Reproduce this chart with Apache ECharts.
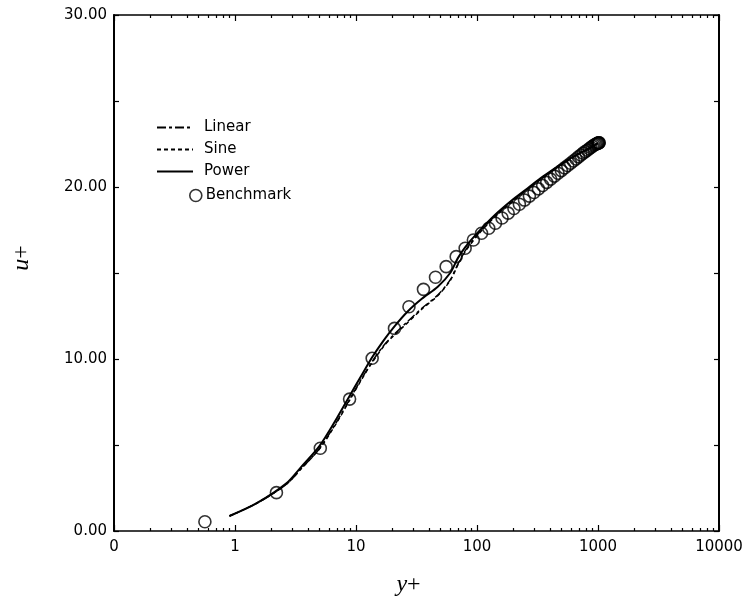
<!DOCTYPE html>
<html><head><meta charset="utf-8">
<script src="https://cdn.jsdelivr.net/npm/echarts@6/dist/echarts.min.js"></script>
<style>html,body{margin:0;padding:0;background:#fff}#c{width:742px;height:598px}</style>
</head><body><div id="c"></div>
<script>
// ---- data ----
var benchX = [0.564, 2.20, 5.07, 8.85, 13.6, 20.8, 27.4, 36.1, 45.4, 55.6, 67.3, 79.8, 93.3, 109, 125, 142, 161, 181, 202, 224, 247, 271, 296, 322, 349, 377, 406, 436, 467, 498, 530, 562, 594, 626, 658, 690, 722, 754, 785, 815, 845, 873, 900, 925, 948, 968, 985, 999, 1010, 1018, 1023];
var benchU = [0.54, 2.23, 4.81, 7.67, 10.04, 11.78, 13.04, 14.05, 14.75, 15.37, 15.95, 16.44, 16.92, 17.31, 17.60, 17.89, 18.20, 18.48, 18.75, 19.00, 19.24, 19.47, 19.68, 19.89, 20.09, 20.27, 20.46, 20.63, 20.80, 20.95, 21.11, 21.25, 21.38, 21.51, 21.63, 21.75, 21.86, 21.97, 22.06, 22.14, 22.22, 22.30, 22.37, 22.43, 22.47, 22.50, 22.53, 22.55, 22.56, 22.57, 22.57];
var lineX = [0.9, 1.5, 2.66, 3.5, 5, 7, 8.85, 11, 13.6, 17, 20.8, 26.6, 35, 47.4, 60, 69.3, 80, 100, 142, 200, 270, 350, 500, 700, 850, 1000];
var powerU  = [0.87, 1.6, 2.77, 3.7, 4.95, 6.6, 7.85, 9.0, 10.1, 11.1, 11.9, 12.75, 13.5, 14.2, 15.0, 15.85, 16.5, 17.3, 18.4, 19.3, 20.0, 20.6, 21.35, 21.95, 22.25, 22.55];
var linearU = [0.87, 1.6, 2.72, 3.6, 4.8, 6.4, 7.65, 8.8, 9.85, 10.8, 11.45, 12.17, 12.95, 13.72, 14.6, 15.5, 16.3, 17.2, 18.35, 19.25, 19.95, 20.55, 21.3, 21.95, 22.25, 22.55];
var sineU   = [0.87, 1.6, 2.72, 3.6, 4.78, 6.35, 7.6, 8.75, 9.8, 10.75, 11.4, 12.1, 12.9, 13.68, 14.55, 15.45, 16.25, 17.15, 18.3, 19.2, 19.95, 20.55, 21.3, 21.95, 22.25, 22.55];
var xMajorTicks = [0.1, 1, 10, 100, 1000, 10000];
var xTickLabels = ['0', '1', '10', '100', '1000', '10000'];
var yTickLabels = ['0.00', '10.00', '20.00', '30.00'];

function pairs(xs, ys) { return xs.map(function (x, i) { return [x, ys[i]]; }); }
var xMinorTicks = [];
for (var d = 0.1; d < 10000; d *= 10) {
  for (var k = 2; k <= 9; k++) xMinorTicks.push(+(d * k).toPrecision(3));
}

var FONT = 'DejaVu Sans';
var black = '#000';
var nameRich = { i: { fontFamily: 'Liberation Serif', fontStyle: 'italic', fontSize: 24, color: black }, n: { fontFamily: 'Liberation Serif', fontSize: 24, color: black } };
function xAxisDef(pos, labels, ticks, tickLen, showLine) {
  return {
    type: 'log', logBase: 10, min: 0.1, max: 10000, position: pos, gridIndex: 0,
    axisLine: { show: showLine, onZero: false, lineStyle: { color: black, width: 1.6 } },
    axisTick: { show: true, inside: true, length: tickLen, customValues: ticks, lineStyle: { color: black, width: 1.2 } },
    axisLabel: labels ? {
      show: true, customValues: xMajorTicks, margin: 9, color: black, fontFamily: FONT, fontSize: 15,
      formatter: function (v) { var i = xMajorTicks.findIndex(function (t) { return Math.abs(Math.log10(t) - Math.log10(v)) < 1e-6; }); return i >= 0 ? xTickLabels[i] : ''; }
    } : { show: false },
    splitLine: { show: false }, minorTick: { show: false },
    name: labels ? '{i|y}{n|+}' : '', nameLocation: 'middle', nameGap: 42,
    nameTextStyle: { rich: nameRich, padding: [0, 16, 0, 0] }
  };
}
function yAxisDef(pos, labels) {
  return {
    type: 'value', min: 0, max: 30, interval: 5, position: pos, gridIndex: 0,
    axisLine: { show: true, onZero: false, lineStyle: { color: black, width: 2 } },
    axisTick: { show: true, inside: true, length: 5, lineStyle: { color: black, width: 1.2 } },
    axisLabel: labels ? {
      show: true, margin: 7, color: black, fontFamily: FONT, fontSize: 15,
      formatter: function (v) { return v % 10 === 0 ? yTickLabels[v / 10] : ''; }
    } : { show: false },
    splitLine: { show: false },
    name: labels ? '{i|u}{n|+}' : '', nameLocation: 'middle', nameGap: 80, nameRotate: 90,
    nameTextStyle: { rich: nameRich, padding: [0, 0, 0, 30] }
  };
}

var chart = echarts.init(document.getElementById('c'), null, { renderer: 'canvas' });
chart.setOption({
  backgroundColor: '#fff',
  animation: false,
  grid: { left: 114, right: 23, top: 15, bottom: 67, containLabel: false, outerBoundsMode: 'none' },
  xAxis: [
    xAxisDef('bottom', true, xMajorTicks, 6, true),
    xAxisDef('bottom', false, xMinorTicks, 3, false),
    xAxisDef('top', false, xMajorTicks, 6, true),
    xAxisDef('top', false, xMinorTicks, 3, false)
  ],
  yAxis: [yAxisDef('left', true), yAxisDef('right', false)],
  legend: [
    {
      data: ['Linear', 'Sine', 'Power'], orient: 'vertical', left: 151, top: 115,
      itemWidth: 36, itemHeight: 14, itemGap: 7,
      itemStyle: { opacity: 0 },
      textStyle: { color: black, fontFamily: FONT, fontSize: 15, padding: [0, 0, 0, 6] }
    },
    {
      data: ['Benchmark'], orient: 'vertical', left: 184, top: 183,
      itemWidth: 12, itemHeight: 12, icon: 'circle',
      itemStyle: { color: 'transparent', borderColor: black, borderWidth: 1.6 },
      textStyle: { color: black, fontFamily: FONT, fontSize: 15, padding: [0, 0, 0, -1] }
    }
  ],
  series: [
    {
      name: 'Linear', type: 'line', xAxisIndex: 0, yAxisIndex: 0, symbol: 'none', smooth: 0.3,
      data: pairs(lineX, linearU), color: black,
      lineStyle: { color: black, width: 1.5, type: [9, 3, 3, 3] }, z: 3
    },
    {
      name: 'Sine', type: 'line', xAxisIndex: 0, yAxisIndex: 0, symbol: 'none', smooth: 0.3,
      data: pairs(lineX, sineU), color: black,
      lineStyle: { color: black, width: 1.5, type: [4, 3] }, z: 3
    },
    {
      name: 'Power', type: 'line', xAxisIndex: 0, yAxisIndex: 0, symbol: 'none', smooth: 0.3,
      data: pairs(lineX, powerU), color: black,
      lineStyle: { color: black, width: 2 }, z: 3
    },
    {
      name: 'Benchmark', type: 'scatter', xAxisIndex: 0, yAxisIndex: 0,
      symbol: 'circle', symbolSize: 12, data: pairs(benchX, benchU),
      itemStyle: { color: 'transparent', borderColor: black, borderWidth: 1.6 }, z: 4
    }
  ]
});
</script></body></html>
